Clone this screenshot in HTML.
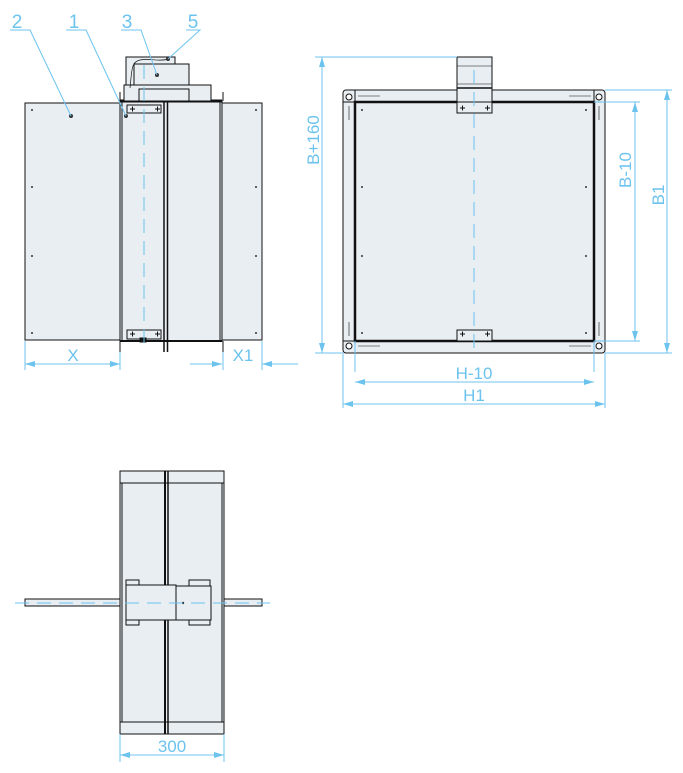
<!DOCTYPE html>
<html><head><style>html,body{margin:0;padding:0;background:#fff}svg{display:block}</style></head><body>
<svg width="683" height="773" viewBox="0 0 683 773" xmlns="http://www.w3.org/2000/svg" font-family="Liberation Sans, sans-serif">
<defs>
<marker id="a" viewBox="0 0 10 6" refX="10" refY="3" markerWidth="16" markerHeight="6" orient="auto-start-reverse" markerUnits="userSpaceOnUse"><path d="M0,0L10,3L0,6z" fill="#6cc3ee"/></marker>
</defs>
<g stroke="#111" stroke-width="1" fill="#e9eef3">
<rect x="25" y="103" width="95" height="237"/>
<rect x="222" y="103" width="40" height="237"/>
<rect x="120" y="101" width="102" height="240"/>
<line x1="122" y1="101" x2="122" y2="341"/><line x1="220" y1="101" x2="220" y2="341"/>
<line x1="164" y1="92" x2="164" y2="352" stroke-width="1.5"/><line x1="167.5" y1="92" x2="167.5" y2="352" stroke-width="1.5"/>
<line x1="120" y1="101" x2="222" y2="101" stroke-width="3"/>
<line x1="120" y1="341" x2="222" y2="341" stroke-width="2"/>
<path d="M120 92V101M120 341V352M223 92V101M223 341V352" fill="none"/>
<rect x="126" y="57" width="49" height="31"/>
<rect x="134" y="64" width="55" height="21"/>
<rect x="124" y="85" width="87" height="16"/>
<rect x="139" y="89" width="50" height="12"/>
<path d="M130 88C132 70 131 62 140 60S160 62 168 59" fill="none" stroke-width="0.7"/>
<rect x="127" y="105" width="34" height="8"/>
<rect x="127" y="330" width="34" height="9"/>
<rect x="140" y="338" width="6" height="4" fill="#111"/>
<rect x="343" y="90" width="262" height="263" rx="3"/>
<line x1="355" y1="90" x2="355" y2="353"/><line x1="594" y1="90" x2="594" y2="353"/>
<line x1="343" y1="102" x2="605" y2="102"/><line x1="343" y1="341" x2="605" y2="341"/>
<rect x="355" y="102" width="239" height="239" stroke-width="2.5"/>
<rect x="457" y="57" width="35" height="45"/>
<line x1="457" y1="66" x2="492" y2="66" stroke-width="0.6"/>
<line x1="457" y1="84" x2="492" y2="84" stroke-width="0.6"/>
<line x1="457" y1="88" x2="492" y2="88" stroke-width="1.5"/>
<rect x="457" y="102" width="35" height="11"/>
<rect x="457" y="330" width="35" height="11"/>
<g fill="#fff"><circle cx="349" cy="97" r="3"/><circle cx="599" cy="97" r="3"/><circle cx="349" cy="346" r="3"/><circle cx="599" cy="346" r="3"/></g>
<path d="M358 96H380M569 96H591M358 346H380M569 346H591M349 106V120M599 106V120M349 322V336M599 322V336" fill="none" stroke-width="0.6"/>
<rect x="120" y="471" width="104" height="263"/>
<line x1="120" y1="483" x2="224" y2="483"/><line x1="120" y1="722" x2="224" y2="722"/>
<line x1="122" y1="483" x2="122" y2="722"/><line x1="222" y1="483" x2="222" y2="722"/>
<line x1="165" y1="471" x2="165" y2="734" stroke-width="2"/><line x1="168" y1="471" x2="168" y2="734" stroke-width="1.5"/>
<rect x="25" y="599" width="95" height="7"/><rect x="224" y="599" width="38" height="7"/>
<rect x="126" y="580" width="13" height="45"/><rect x="189" y="580" width="21" height="45"/>
<rect x="126" y="585" width="50" height="35"/>
<rect x="176" y="586" width="35" height="34"/>
</g>
<g fill="#333">
<circle cx="32" cy="110" r="1"/><circle cx="32" cy="187" r="1"/><circle cx="32" cy="256" r="1"/><circle cx="32" cy="333" r="1"/>
<circle cx="256" cy="110" r="1"/><circle cx="256" cy="187" r="1"/><circle cx="256" cy="256" r="1"/><circle cx="256" cy="333" r="1"/>
<circle cx="71" cy="116" r="2"/><circle cx="126" cy="116" r="2"/><circle cx="157" cy="75" r="2"/><circle cx="168" cy="59" r="2"/>
<circle cx="362" cy="110" r="1"/><circle cx="362" cy="187" r="1"/><circle cx="362" cy="256" r="1"/><circle cx="362" cy="333" r="1"/>
<circle cx="586" cy="110" r="1"/><circle cx="586" cy="187" r="1"/><circle cx="586" cy="256" r="1"/><circle cx="586" cy="333" r="1"/>
<circle cx="183" cy="603" r="1.2"/>
</g>
<g stroke="#111" stroke-width="1">
<path d="M130 109h5M132.5 106.5v5M155 109h5M157.5 106.5v5M130 334h5M132.5 331.5v5M155 334h5M157.5 331.5v5M460 108h5M462.5 105.5v5M485 108h5M487.5 105.5v5M460 334h5M462.5 331.5v5M485 334h5M487.5 331.5v5"/>
</g>
<g stroke="#6cc3ee" stroke-width="1" fill="none">
<line x1="144" y1="65" x2="144" y2="347" stroke-dasharray="14,8"/>
<line x1="474" y1="70" x2="474" y2="353" stroke-dasharray="14,8"/>
<line x1="15" y1="603" x2="270" y2="603" stroke-dasharray="14,8"/>
<path d="M10 30H30L71 116M66 30H86L126 116M121 30H141L157 75M186 30H200L168 59"/>
<path d="M25 341V370M120 352V370M223 352V370M262 341V370"/>
<line x1="25" y1="364" x2="120" y2="364" marker-start="url(#a)" marker-end="url(#a)"/>
<line x1="190" y1="364" x2="222" y2="364" marker-end="url(#a)"/>
<line x1="298" y1="364" x2="262" y2="364" marker-end="url(#a)"/>
<path d="M315 57H457M315 353H343M594 102H640M605 90H672M605 353H672M594 341H640M355 341V372M594 341V372M343 353V408M605 353V408"/>
<line x1="322" y1="57" x2="322" y2="353" marker-start="url(#a)" marker-end="url(#a)"/>
<line x1="635" y1="102" x2="635" y2="341" marker-start="url(#a)" marker-end="url(#a)"/>
<line x1="667" y1="90" x2="667" y2="353" marker-start="url(#a)" marker-end="url(#a)"/>
<line x1="355" y1="382" x2="594" y2="382" marker-start="url(#a)" marker-end="url(#a)"/>
<line x1="343" y1="404" x2="605" y2="404" marker-start="url(#a)" marker-end="url(#a)"/>
<path d="M120 734V762M224 734V762"/>
<line x1="120" y1="755" x2="224" y2="755" marker-start="url(#a)" marker-end="url(#a)"/>
</g>
<g fill="#6cc3ee" font-size="17" text-anchor="middle">
<g font-size="19"><text x="17" y="28">2</text><text x="74" y="28">1</text><text x="127" y="28">3</text><text x="193" y="28">5</text></g>
<text x="73" y="361">X</text><text x="243" y="361">X1</text>
<text x="474" y="379">H-10</text><text x="474" y="401">H1</text>
<text x="172" y="752">300</text>
<text transform="translate(319,140) rotate(-90)">B+160</text>
<text transform="translate(631,170) rotate(-90)">B-10</text>
<text transform="translate(664,195) rotate(-90)">B1</text>
</g>
</svg>
</body></html>
